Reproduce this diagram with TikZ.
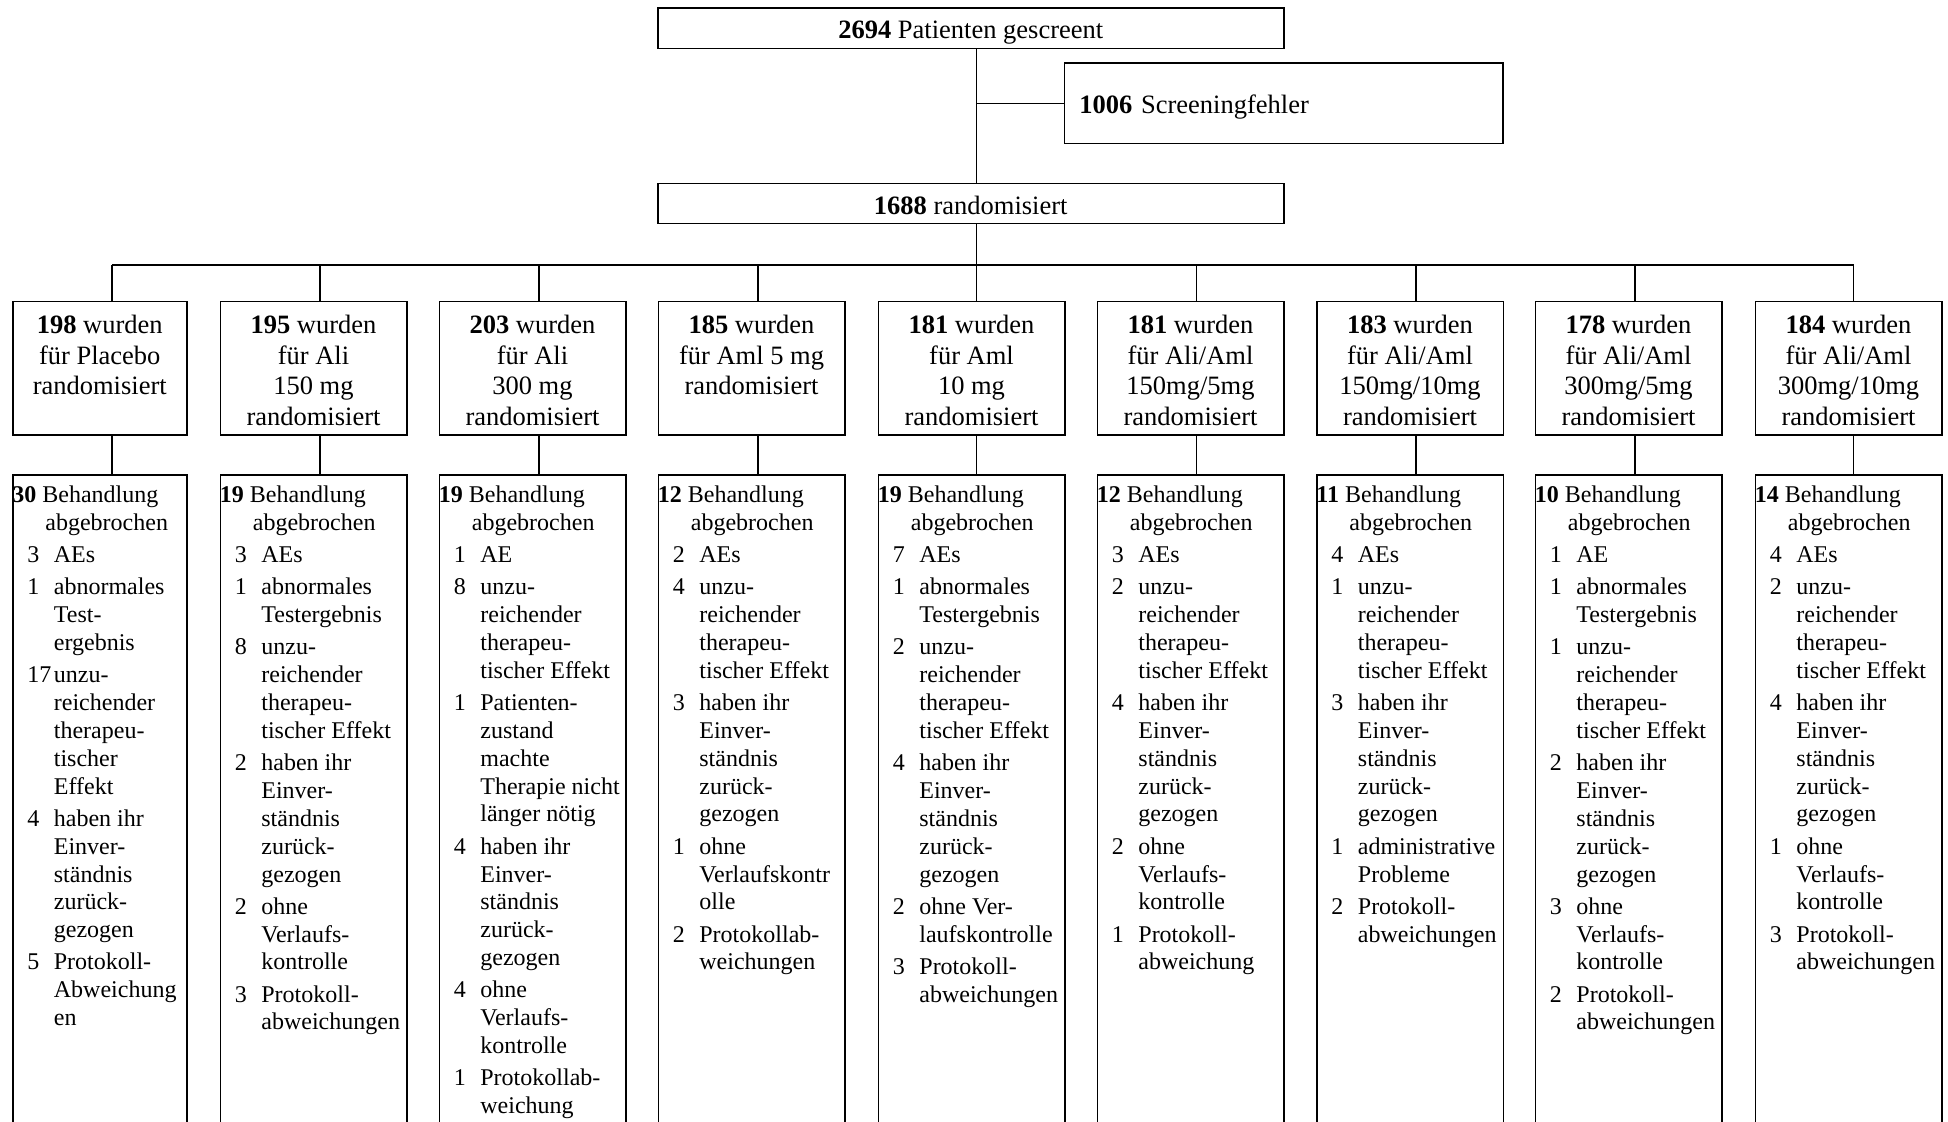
\documentclass[tikz,border=0pt]{standalone}
\usepackage{fontspec}
\setmainfont{Liberation Serif}
\newcommand\DropItem[2]{\hspace*{7.5pt}\makebox[13.25pt][l]{#1}#2}
\newcommand\DropCont[1]{\hspace*{20.75pt}#1}
\newcommand\DropHead[1]{\textbf{#1} Behandlung\\\hspace*{16.5pt}abgebrochen}
\begin{document}
\begin{tikzpicture}[x=0.5pt,y=-0.5pt,
  box/.style={draw, line width=0.75pt, inner sep=0pt},
  conn/.style={line width=0.75pt},
  btext/.style={font=\fontsize{13.25}{15.3}\selectfont},
  gtext/.style={inner sep=0pt, anchor=base, font=\fontsize{13.25}{15.3}\selectfont},
  dtext/.style={inner sep=0pt, anchor=base west, font=\fontsize{12}{13.95}\selectfont}]
\useasboundingbox (0,0) rectangle (1948,1122);
\clip (0,0) rectangle (1948,1122);

% top part
\node[box, btext, minimum width=313pt, minimum height=20.25pt, anchor=north west] (top) at (657,7.5) {\raisebox{-1.85pt}[\height][\depth]{\textbf{2694} Patienten gescreent}};
\node[box, btext, minimum width=219.25pt, minimum height=40.25pt, anchor=north west, text width=204.25pt, inner xsep=7.5pt, align=left] (scr) at (1063.5,62.5) {\raisebox{-1.85pt}[\height][\depth]{\textbf{1006} Screeningfehler}};
\node[box, btext, minimum width=313pt, minimum height=20pt, anchor=north west] (rand) at (657,183) {\raisebox{-0.6pt}[\height][\depth]{\textbf{1688} randomisiert}};

\coordinate (tr) at (976.5,265);
\draw[conn] (top.south -| tr) -- (rand.north -| tr);
\draw[conn] (scr.west -| tr) -- (scr.west);
\draw[conn] (rand.south -| tr) -- (tr);

% group boxes and dropout boxes
\foreach \i/\l/\w/\bx in {1/12/87/112, 2/219.5/93.25/320, 3/438.5/93.25/539, 4/657.5/93.25/758, 5/877.5/93.25/976.5, 6/1096.5/93.25/1196.5, 7/1316/93.25/1416, 8/1534.5/93.25/1635, 9/1754.5/93.25/1853.5}{
  \coordinate (b\i) at (\bx,265);
  \node[box, minimum width=\w pt, minimum height=66.75pt, anchor=north west] (g\i) at (\l,301) {};
  \node[box, minimum width=\w pt, minimum height=342.75pt, anchor=north west] (d\i) at (\l,474.5) {};
  \draw[conn] (b\i) -- (b\i |- g\i.north);
  \draw[conn] (g\i.south -| b\i) -- (d\i.north -| b\i);
}
\draw[conn] (b1) -- (b9);

% group texts
\node[gtext] (g1t) at ([yshift=-16.25pt]g1.north) {\begin{tabular}[t]{@{}c@{}}\textbf{198} wurden\\für Placebo\\randomisiert\end{tabular}};
\node[gtext] (g2t) at ([yshift=-16.25pt]g2.north) {\begin{tabular}[t]{@{}c@{}}\textbf{195} wurden\\für Ali\\150 mg\\randomisiert\end{tabular}};
\node[gtext] (g3t) at ([yshift=-16.25pt]g3.north) {\begin{tabular}[t]{@{}c@{}}\textbf{203} wurden\\für Ali\\300 mg\\randomisiert\end{tabular}};
\node[gtext] (g4t) at ([yshift=-16.25pt]g4.north) {\begin{tabular}[t]{@{}c@{}}\textbf{185} wurden\\für Aml 5 mg\\randomisiert\end{tabular}};
\node[gtext] (g5t) at ([yshift=-16.25pt]g5.north) {\begin{tabular}[t]{@{}c@{}}\textbf{181} wurden\\für Aml\\10 mg\\randomisiert\end{tabular}};
\node[gtext] (g6t) at ([yshift=-16.25pt]g6.north) {\begin{tabular}[t]{@{}c@{}}\textbf{181} wurden\\für Ali/Aml\\150mg/5mg\\randomisiert\end{tabular}};
\node[gtext] (g7t) at ([yshift=-16.25pt]g7.north) {\begin{tabular}[t]{@{}c@{}}\textbf{183} wurden\\für Ali/Aml\\150mg/10mg\\randomisiert\end{tabular}};
\node[gtext] (g8t) at ([yshift=-16.25pt]g8.north) {\begin{tabular}[t]{@{}c@{}}\textbf{178} wurden\\für Ali/Aml\\300mg/5mg\\randomisiert\end{tabular}};
\node[gtext] (g9t) at ([yshift=-16.25pt]g9.north) {\begin{tabular}[t]{@{}c@{}}\textbf{184} wurden\\für Ali/Aml\\300mg/10mg\\randomisiert\end{tabular}};

% dropout texts
\node[dtext] (d1t) at ([yshift=-14pt]d1.north west) {\begin{tabular}[t]{@{}l@{}}
\DropHead{30}\\[2.1pt]
\DropItem{3}{AEs}\\[2.1pt]
\DropItem{1}{abnormales}\\ \DropCont{Test-}\\ \DropCont{ergebnis}\\[2.1pt]
\DropItem{17}{unzu-}\\ \DropCont{reichender}\\ \DropCont{therapeu-}\\ \DropCont{tischer}\\ \DropCont{Effekt}\\[2.1pt]
\DropItem{4}{haben ihr}\\ \DropCont{Einver-}\\ \DropCont{ständnis}\\ \DropCont{zurück-}\\ \DropCont{gezogen}\\[2.1pt]
\DropItem{5}{Protokoll-}\\ \DropCont{Abweichung}\\ \DropCont{en}
\end{tabular}};
\node[dtext] (d2t) at ([yshift=-14pt]d2.north west) {\begin{tabular}[t]{@{}l@{}}
\DropHead{19}\\[2.1pt]
\DropItem{3}{AEs}\\[2.1pt]
\DropItem{1}{abnormales}\\ \DropCont{Testergebnis}\\[2.1pt]
\DropItem{8}{unzu-}\\ \DropCont{reichender}\\ \DropCont{therapeu-}\\ \DropCont{tischer Effekt}\\[2.1pt]
\DropItem{2}{haben ihr}\\ \DropCont{Einver-}\\ \DropCont{ständnis}\\ \DropCont{zurück-}\\ \DropCont{gezogen}\\[2.1pt]
\DropItem{2}{ohne}\\ \DropCont{Verlaufs-}\\ \DropCont{kontrolle}\\[2.1pt]
\DropItem{3}{Protokoll-}\\ \DropCont{abweichungen}
\end{tabular}};
\node[dtext] (d3t) at ([yshift=-14pt]d3.north west) {\begin{tabular}[t]{@{}l@{}}
\DropHead{19}\\[2.1pt]
\DropItem{1}{AE}\\[2.1pt]
\DropItem{8}{unzu-}\\ \DropCont{reichender}\\ \DropCont{therapeu-}\\ \DropCont{tischer Effekt}\\[2.1pt]
\DropItem{1}{Patienten-}\\ \DropCont{zustand}\\ \DropCont{machte}\\ \DropCont{Therapie nicht}\\ \DropCont{länger nötig}\\[2.1pt]
\DropItem{4}{haben ihr}\\ \DropCont{Einver-}\\ \DropCont{ständnis}\\ \DropCont{zurück-}\\ \DropCont{gezogen}\\[2.1pt]
\DropItem{4}{ohne}\\ \DropCont{Verlaufs-}\\ \DropCont{kontrolle}\\[2.1pt]
\DropItem{1}{Protokollab-}\\ \DropCont{weichung}
\end{tabular}};
\node[dtext] (d4t) at ([yshift=-14pt]d4.north west) {\begin{tabular}[t]{@{}l@{}}
\DropHead{12}\\[2.1pt]
\DropItem{2}{AEs}\\[2.1pt]
\DropItem{4}{unzu-}\\ \DropCont{reichender}\\ \DropCont{therapeu-}\\ \DropCont{tischer Effekt}\\[2.1pt]
\DropItem{3}{haben ihr}\\ \DropCont{Einver-}\\ \DropCont{ständnis}\\ \DropCont{zurück-}\\ \DropCont{gezogen}\\[2.1pt]
\DropItem{1}{ohne}\\ \DropCont{Verlaufskontr}\\ \DropCont{olle}\\[2.1pt]
\DropItem{2}{Protokollab-}\\ \DropCont{weichungen}
\end{tabular}};
\node[dtext] (d5t) at ([yshift=-14pt]d5.north west) {\begin{tabular}[t]{@{}l@{}}
\DropHead{19}\\[2.1pt]
\DropItem{7}{AEs}\\[2.1pt]
\DropItem{1}{abnormales}\\ \DropCont{Testergebnis}\\[2.1pt]
\DropItem{2}{unzu-}\\ \DropCont{reichender}\\ \DropCont{therapeu-}\\ \DropCont{tischer Effekt}\\[2.1pt]
\DropItem{4}{haben ihr}\\ \DropCont{Einver-}\\ \DropCont{ständnis}\\ \DropCont{zurück-}\\ \DropCont{gezogen}\\[2.1pt]
\DropItem{2}{ohne Ver-}\\ \DropCont{laufskontrolle}\\[2.1pt]
\DropItem{3}{Protokoll-}\\ \DropCont{abweichungen}
\end{tabular}};
\node[dtext] (d6t) at ([yshift=-14pt]d6.north west) {\begin{tabular}[t]{@{}l@{}}
\DropHead{12}\\[2.1pt]
\DropItem{3}{AEs}\\[2.1pt]
\DropItem{2}{unzu-}\\ \DropCont{reichender}\\ \DropCont{therapeu-}\\ \DropCont{tischer Effekt}\\[2.1pt]
\DropItem{4}{haben ihr}\\ \DropCont{Einver-}\\ \DropCont{ständnis}\\ \DropCont{zurück-}\\ \DropCont{gezogen}\\[2.1pt]
\DropItem{2}{ohne}\\ \DropCont{Verlaufs-}\\ \DropCont{kontrolle}\\[2.1pt]
\DropItem{1}{Protokoll-}\\ \DropCont{abweichung}
\end{tabular}};
\node[dtext] (d7t) at ([yshift=-14pt]d7.north west) {\begin{tabular}[t]{@{}l@{}}
\DropHead{11}\\[2.1pt]
\DropItem{4}{AEs}\\[2.1pt]
\DropItem{1}{unzu-}\\ \DropCont{reichender}\\ \DropCont{therapeu-}\\ \DropCont{tischer Effekt}\\[2.1pt]
\DropItem{3}{haben ihr}\\ \DropCont{Einver-}\\ \DropCont{ständnis}\\ \DropCont{zurück-}\\ \DropCont{gezogen}\\[2.1pt]
\DropItem{1}{administrative}\\ \DropCont{Probleme}\\[2.1pt]
\DropItem{2}{Protokoll-}\\ \DropCont{abweichungen}
\end{tabular}};
\node[dtext] (d8t) at ([yshift=-14pt]d8.north west) {\begin{tabular}[t]{@{}l@{}}
\DropHead{10}\\[2.1pt]
\DropItem{1}{AE}\\[2.1pt]
\DropItem{1}{abnormales}\\ \DropCont{Testergebnis}\\[2.1pt]
\DropItem{1}{unzu-}\\ \DropCont{reichender}\\ \DropCont{therapeu-}\\ \DropCont{tischer Effekt}\\[2.1pt]
\DropItem{2}{haben ihr}\\ \DropCont{Einver-}\\ \DropCont{ständnis}\\ \DropCont{zurück-}\\ \DropCont{gezogen}\\[2.1pt]
\DropItem{3}{ohne}\\ \DropCont{Verlaufs-}\\ \DropCont{kontrolle}\\[2.1pt]
\DropItem{2}{Protokoll-}\\ \DropCont{abweichungen}
\end{tabular}};
\node[dtext] (d9t) at ([yshift=-14pt]d9.north west) {\begin{tabular}[t]{@{}l@{}}
\DropHead{14}\\[2.1pt]
\DropItem{4}{AEs}\\[2.1pt]
\DropItem{2}{unzu-}\\ \DropCont{reichender}\\ \DropCont{therapeu-}\\ \DropCont{tischer Effekt}\\[2.1pt]
\DropItem{4}{haben ihr}\\ \DropCont{Einver-}\\ \DropCont{ständnis}\\ \DropCont{zurück-}\\ \DropCont{gezogen}\\[2.1pt]
\DropItem{1}{ohne}\\ \DropCont{Verlaufs-}\\ \DropCont{kontrolle}\\[2.1pt]
\DropItem{3}{Protokoll-}\\ \DropCont{abweichungen}
\end{tabular}};
\end{tikzpicture}
\end{document}
